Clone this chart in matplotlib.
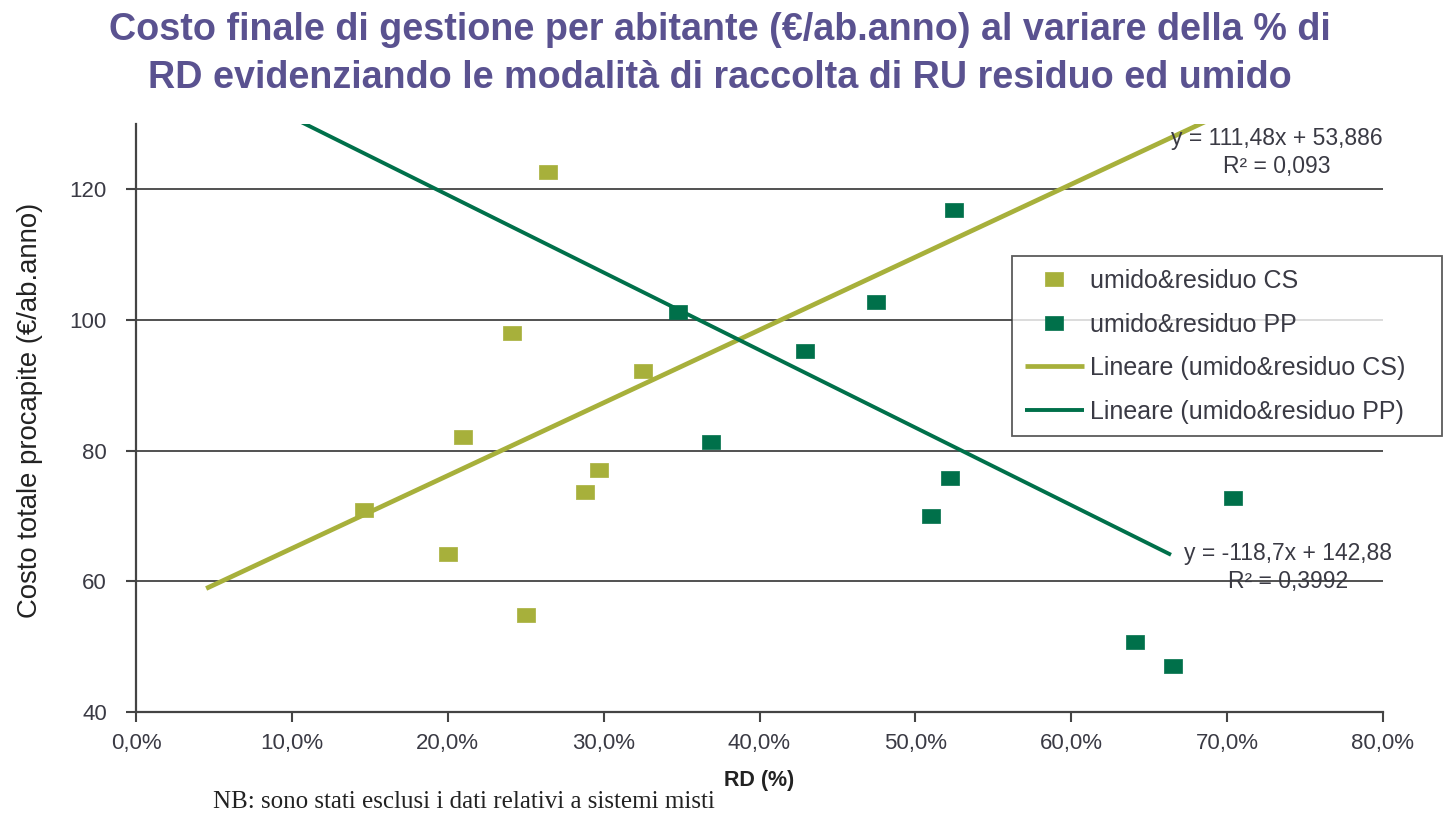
import matplotlib
matplotlib.use("Agg")
import matplotlib.pyplot as plt
import numpy as np
from matplotlib.ticker import FuncFormatter

# ---- data ----
cs_x = [0.146, 0.200, 0.210, 0.241, 0.250, 0.264, 0.288, 0.297, 0.325]
cs_y = [70.9, 64.2, 82.1, 98.0, 54.8, 122.6, 73.7, 77.0, 92.2]
pp_x = [0.348, 0.369, 0.429, 0.475, 0.510, 0.522, 0.525, 0.641, 0.665, 0.704]
pp_y = [101.2, 81.3, 95.2, 102.7, 70.0, 75.8, 116.8, 50.7, 47.0, 72.7]

cs_coef = (111.48, 53.886)
pp_coef = (-118.7, 142.88)
cs_range = (0.045, 0.70)
pp_range = (0.09, 0.664)

labels = ["umido&residuo CS", "umido&residuo PP",
          "Lineare (umido&residuo CS)", "Lineare (umido&residuo PP)"]
eq_cs = "y = 111,48x + 53,886\nR² = 0,093"
eq_pp = "y = -118,7x + 142,88\nR² = 0,3992"
title1 = "Costo finale di gestione per abitante (€/ab.anno) al variare della % di"
title2 = "RD evidenziando le modalità di raccolta di RU residuo ed umido"
note = "NB: sono stati esclusi i dati relativi a sistemi misti"
xticks = [0.0, 0.1, 0.2, 0.3, 0.4, 0.5, 0.6, 0.7, 0.8]
yticks = [40, 60, 80, 100, 120]

C_CS = "#a7b03b"
C_PP = "#00704a"
TXT = "#3a3a44"

plt.rcParams['font.family'] = ['Liberation Sans', 'DejaVu Sans']

# slightly wide rectangular marker (the reference is horizontally stretched)
rect = [(-1.3, -1.0), (1.3, -1.0), (1.3, 1.0), (-1.3, 1.0), (-1.3, -1.0)]

fig = plt.figure(figsize=(14.43, 8.13), dpi=100)
ax = fig.add_axes([136/1443, 1-712/813, (1383-136)/1443, (712-124)/813])
ax.set_xlim(0, 0.8)
ax.set_ylim(40, 130)

for y in yticks[1:]:
    ax.axhline(y, color="#222222", lw=1.1, zorder=1)

l1 = ax.plot(cs_x, cs_y, ls="none", marker=rect, ms=12.5, color=C_CS, mec=C_CS, mew=0.5,
             zorder=3, label=labels[0])[0]
l2 = ax.plot(pp_x, pp_y, ls="none", marker=rect, ms=12.5, color=C_PP, mec=C_PP, mew=0.5,
             zorder=3, label=labels[1])[0]

xs = np.array(cs_range)
l3 = ax.plot(xs, cs_coef[0]*xs + cs_coef[1], color=C_CS, lw=3.4, zorder=2,
             solid_capstyle="butt", label=labels[2])[0]
xp = np.array(pp_range)
l4 = ax.plot(xp, pp_coef[0]*xp + pp_coef[1], color=C_PP, lw=2.8, zorder=2,
             solid_capstyle="butt", label=labels[3])[0]

ax.text(0.732, 125.6, eq_cs, ha="center", va="center", fontsize=16.5, color=TXT,
        linespacing=1.3, multialignment="center")
ax.text(0.739, 62.1, eq_pp, ha="center", va="center", fontsize=16.5, color=TXT,
        linespacing=1.3, multialignment="center")

for s in ["top", "right"]:
    ax.spines[s].set_visible(False)
for s in ["left", "bottom"]:
    ax.spines[s].set_color("#444444")
    ax.spines[s].set_linewidth(1.6)

ax.set_xticks(xticks)
ax.set_yticks(yticks)
ax.xaxis.set_major_formatter(FuncFormatter(lambda v, p: f"{v*100:.1f}%".replace(".", ",")))
ax.tick_params(axis="both", direction="out", length=7, width=1.5, color="#444444",
               labelsize=16, labelcolor=TXT)
ax.tick_params(axis="y", pad=14)
ax.tick_params(axis="x", pad=8)

ax.set_ylabel("Costo totale procapite (€/ab.anno)", fontsize=19.8, color="#222222")
ax.yaxis.set_label_coords((30-136)/1247, (712-410)/588)
ax.yaxis.label.set_va("center")
ax.set_xlabel("RD (%)", fontsize=15.5, fontweight="bold", color="#222222")
ax.xaxis.set_label_coords(0.5, (712-780)/588)
ax.xaxis.label.set_va("center")

fig.text(720/1443, 1-30/813, title1, ha="center", va="center", fontsize=27.2,
         fontweight="bold", color="#5a5290")
fig.text(720/1443, 1-78/813, title2, ha="center", va="center", fontsize=27.2,
         fontweight="bold", color="#5a5290")

fig.text(213/1443, 1-802/813, note, fontsize=18, family="Liberation Serif",
         color="#222222", va="center", ha="left")

leg = fig.legend(handles=[l1, l2, l3, l4], loc="upper left", mode="expand",
                 bbox_to_anchor=(1012/1443, 1-436/813, 430/1443, 180/813),
                 frameon=True, fancybox=False,
                 fontsize=18, handlelength=2.35, handletextpad=0.25, labelspacing=0.78,
                 borderpad=0.52, numpoints=1, borderaxespad=0)
leg.get_frame().set_edgecolor("#333333")
leg.get_frame().set_linewidth(1.3)
for t in leg.get_texts():
    t.set_color(TXT)

fig.savefig("out.png", dpi=100)
